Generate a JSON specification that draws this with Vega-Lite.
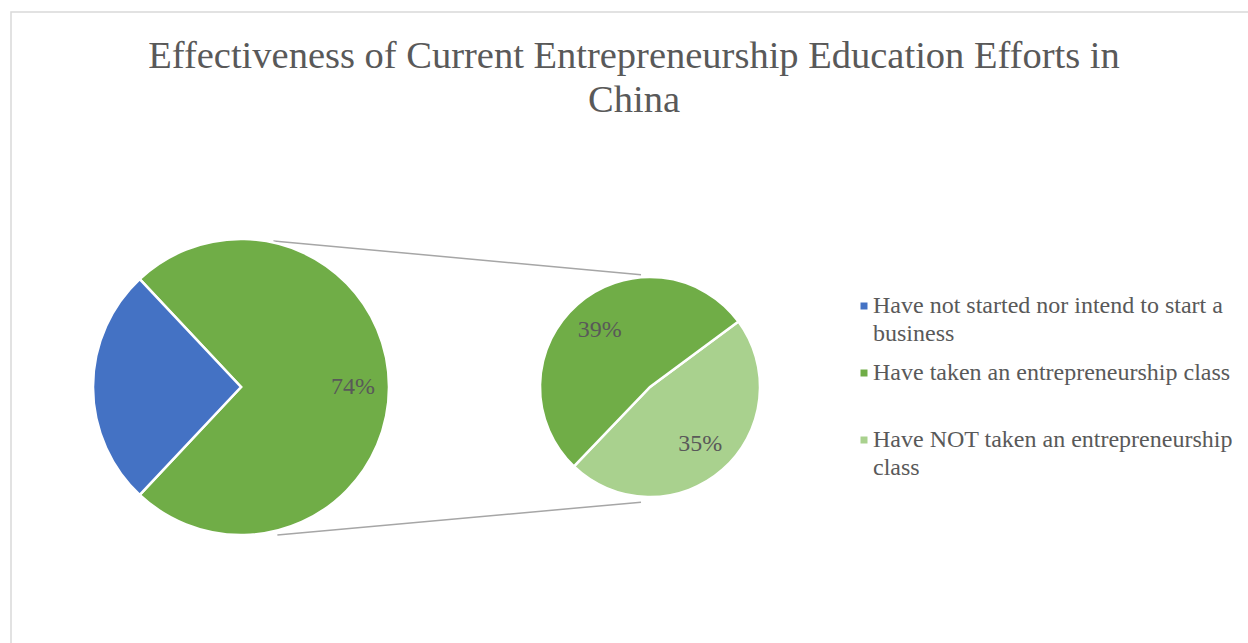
{
  "$schema": "https://vega.github.io/schema/vega-lite/v6.json",
  "width": 1248,
  "height": 643,
  "autosize": {"type": "fit", "contains": "padding"},
  "padding": {"left": 11, "top": 12, "right": -2, "bottom": -2},
  "background": "white",
  "title": {
    "text": ["Effectiveness of Current Entrepreneurship Education Efforts in", "China"],
    "font": "Liberation Serif",
    "fontSize": 38.5,
    "fontWeight": "normal",
    "color": "#595959",
    "anchor": "middle",
    "frame": "group",
    "baseline": "top",
    "offset": -108,
    "lineHeight": 44,
    "dx": 3.5
  },
  "datasets": {
    "slices": [
      {"pie": "Primary", "category": "Other", "share": 0.74, "seq": 1},
      {"pie": "Primary", "category": "Have not started nor intend to start a business", "share": 0.26, "seq": 2},
      {"pie": "Secondary", "category": "Have NOT taken an entrepreneurship class", "share": 0.35, "seq": 1},
      {"pie": "Secondary", "category": "Have taken an entrepreneurship class", "share": 0.39, "seq": 2}
    ],
    "connectors": [
      {"edge": "top", "x": 0.217, "y": 0.995, "x2": 2.705, "y2": 0.766},
      {"edge": "bottom", "x": 0.244, "y": -0.992, "x2": 2.705, "y2": -0.771}
    ]
  },
  "layer": [
    {
      "data": {"name": "connectors"},
      "mark": {"type": "rule", "color": "#A6A6A6", "strokeWidth": 1.5},
      "encoding": {
        "x": {"field": "x", "type": "quantitative", "scale": {"domain": [-1.559, 6.827], "zero": false, "nice": false}, "axis": null},
        "x2": {"field": "x2"},
        "y": {"field": "y", "type": "quantitative", "scale": {"domain": [-1.736, 2.542], "zero": false, "nice": false}, "axis": null},
        "y2": {"field": "y2"}
      }
    },
    {
      "data": {"name": "slices"},
      "transform": [{"filter": "datum.pie == 'Primary'"}],
      "mark": {"type": "arc", "outerRadius": 148, "stroke": "white", "strokeWidth": 2.5},
      "encoding": {
        "x": {"field": "pie", "type": "nominal", "scale": {"type": "point", "padding": 0, "domain": ["Primary", "Secondary"], "range": [230, 639]}, "axis": null},
        "y": {"field": "pie", "type": "nominal", "scale": {"type": "point", "padding": 0, "domain": ["Primary", "Secondary"], "range": [375, 375]}, "axis": null},
        "theta": {"field": "share", "type": "quantitative", "stack": true, "scale": {"domain": [0, 1], "range": [-0.75398, 5.52920]}},
        "order": {"field": "seq", "type": "quantitative"},
        "color": {
          "field": "category",
          "type": "nominal",
          "scale": {
            "domain": ["Have not started nor intend to start a business", "Have taken an entrepreneurship class", "Have NOT taken an entrepreneurship class", "Other"],
            "range": ["#4472C4", "#70AD47", "#A9D18E", "#70AD47"]
          },
          "legend": {
            "values": ["Have not started nor intend to start a business", "Have taken an entrepreneurship class", "Have NOT taken an entrepreneurship class"],
            "orient": "none",
            "legendX": 841,
            "legendY": 282,
            "title": null,
            "padding": 0,
            "symbolType": "square",
            "symbolSize": 49,
            "symbolStrokeWidth": 0,
            "labelFont": "Liberation Serif",
            "labelFontSize": 24,
            "labelColor": "#595959",
            "labelOffset": -3,
            "labelLimit": 500,
            "rowPadding": 15,
            "labelExpr": "datum.label == 'Have not started nor intend to start a business' ? ['Have not started nor intend to start a', 'business'] : datum.label == 'Have NOT taken an entrepreneurship class' ? ['Have NOT taken an entrepreneurship', 'class'] : [datum.label, ' ']"
          }
        }
      }
    },
    {
      "data": {"name": "slices"},
      "transform": [{"filter": "datum.pie == 'Primary'"}],
      "mark": {"type": "text", "radius": 112, "font": "Liberation Serif", "fontSize": 24, "color": "#595959"},
      "encoding": {
        "x": {"field": "pie", "type": "nominal", "scale": {"type": "point", "padding": 0, "domain": ["Primary", "Secondary"], "range": [230, 639]}, "axis": null},
        "y": {"field": "pie", "type": "nominal", "scale": {"type": "point", "padding": 0, "domain": ["Primary", "Secondary"], "range": [375, 375]}, "axis": null},
        "theta": {"field": "share", "type": "quantitative", "stack": true, "scale": {"domain": [0, 1], "range": [-0.75398, 5.52920]}},
        "order": {"field": "seq", "type": "quantitative"},
        "text": {"condition": {"test": "datum.category == 'Other'", "field": "share", "format": ".0%"}, "value": ""}
      }
    },
    {
      "data": {"name": "slices"},
      "transform": [{"filter": "datum.pie == 'Secondary'"}],
      "mark": {"type": "arc", "outerRadius": 110, "stroke": "white", "strokeWidth": 2.5},
      "encoding": {
        "x": {"field": "pie", "type": "nominal", "scale": {"type": "point", "padding": 0, "domain": ["Primary", "Secondary"], "range": [230, 639]}, "axis": null},
        "y": {"field": "pie", "type": "nominal", "scale": {"type": "point", "padding": 0, "domain": ["Primary", "Secondary"], "range": [375, 375]}, "axis": null},
        "theta": {"field": "share", "type": "quantitative", "stack": true, "scale": {"domain": [0, 0.74], "range": [0.9338, 7.2170]}},
        "order": {"field": "seq", "type": "quantitative"},
        "color": {"field": "category", "type": "nominal"}
      }
    },
    {
      "data": {"name": "slices"},
      "transform": [{"filter": "datum.pie == 'Secondary'"}],
      "mark": {"type": "text", "radius": 76, "font": "Liberation Serif", "fontSize": 24, "color": "#595959"},
      "encoding": {
        "x": {"field": "pie", "type": "nominal", "scale": {"type": "point", "padding": 0, "domain": ["Primary", "Secondary"], "range": [230, 639]}, "axis": null},
        "y": {"field": "pie", "type": "nominal", "scale": {"type": "point", "padding": 0, "domain": ["Primary", "Secondary"], "range": [375, 375]}, "axis": null},
        "theta": {"field": "share", "type": "quantitative", "stack": true, "scale": {"domain": [0, 0.74], "range": [0.9338, 7.2170]}},
        "order": {"field": "seq", "type": "quantitative"},
        "text": {"field": "share", "type": "quantitative", "format": ".0%"}
      }
    }
  ],
  "resolve": {"scale": {"x": "independent", "y": "independent", "theta": "independent"}},
  "config": {
    "view": {"stroke": "#D9D9D9", "strokeWidth": 1.5},
    "style": {"guide-label": {"lineHeight": 28}}
  }
}
